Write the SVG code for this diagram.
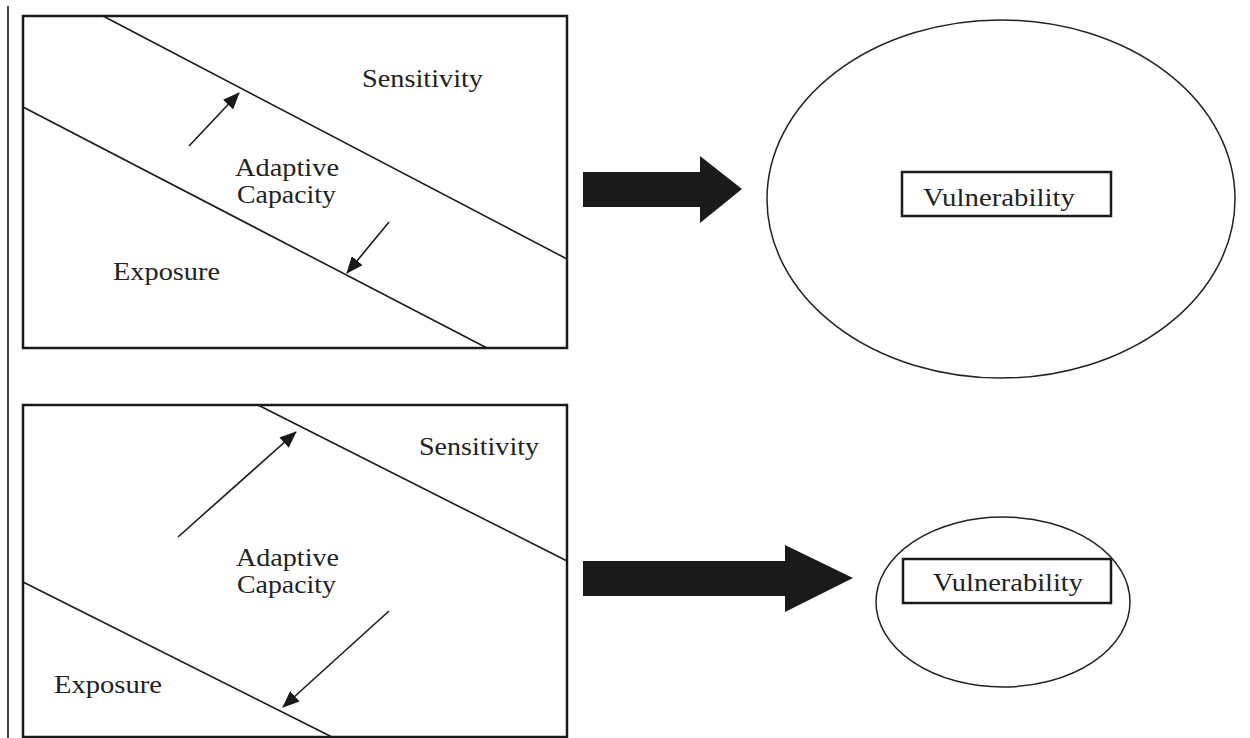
<svg xmlns="http://www.w3.org/2000/svg" width="1250" height="738" viewBox="0 0 1250 738">
<style>
.box{fill:#fff;stroke:#1a1a1a;stroke-width:2.5}
.div{fill:none;stroke:#1a1a1a;stroke-width:1.6}
.arr{fill:none;stroke:#1a1a1a;stroke-width:1.6;marker-end:url(#ah)}
.t{font-family:"Liberation Serif","Times New Roman",serif;fill:#222;font-size:26px}
.ell{fill:#fff;stroke:#222;stroke-width:1.5}
.vbox{fill:#fff;stroke:#1a1a1a;stroke-width:2.5}
.big{fill:#1a1a1a}
</style>
<defs>
<marker id="ah" markerUnits="userSpaceOnUse" markerWidth="18" markerHeight="14" refX="16" refY="7" orient="auto">
<path d="M0,0 L17,7 L0,14 Z" fill="#1a1a1a"/>
</marker>
</defs>
<line x1="8" y1="6" x2="8" y2="738" stroke="#1a1a1a" stroke-width="1.6"/>

<g id="top-panel">
<rect class="box" x="23" y="16" width="544" height="332"/>
<line class="div" x1="103" y1="16" x2="567" y2="259"/>
<line class="div" x1="23" y1="107" x2="487" y2="348"/>
<text class="t" x="362" y="87" textLength="121" lengthAdjust="spacingAndGlyphs">Sensitivity</text>
<text class="t" x="235" y="176" textLength="104" lengthAdjust="spacingAndGlyphs">Adaptive</text>
<text class="t" x="237" y="203" textLength="99" lengthAdjust="spacingAndGlyphs">Capacity</text>
<text class="t" x="113" y="280" textLength="107" lengthAdjust="spacingAndGlyphs">Exposure</text>
</g>

<g id="bottom-panel">
<rect class="box" x="23" y="405" width="544" height="332"/>
<line class="div" x1="258" y1="405" x2="567" y2="561"/>
<line class="div" x1="23" y1="582" x2="332" y2="737"/>
<text class="t" x="419" y="455" textLength="120" lengthAdjust="spacingAndGlyphs">Sensitivity</text>
<text class="t" x="236" y="566" textLength="103" lengthAdjust="spacingAndGlyphs">Adaptive</text>
<text class="t" x="237" y="593" textLength="99" lengthAdjust="spacingAndGlyphs">Capacity</text>
<text class="t" x="54" y="693" textLength="108" lengthAdjust="spacingAndGlyphs">Exposure</text>
</g>

<g id="top-vulnerability">
<ellipse class="ell" cx="1001" cy="199" rx="234" ry="179"/>
<rect class="vbox" x="902" y="172" width="209" height="44"/>
<text class="t" x="923" y="206" textLength="152" lengthAdjust="spacingAndGlyphs">Vulnerability</text>
</g>

<g id="bottom-vulnerability">
<ellipse class="ell" cx="1003" cy="602" rx="127" ry="85"/>
<rect class="vbox" x="903" y="559" width="208" height="44"/>
<text class="t" x="933" y="591" textLength="150" lengthAdjust="spacingAndGlyphs">Vulnerability</text>
</g>

<g id="connectors">
<line class="arr" x1="189" y1="146" x2="239" y2="93"/>
<line class="arr" x1="389" y1="222" x2="347" y2="273"/>
<line class="arr" x1="178" y1="537" x2="296" y2="432"/>
<line class="arr" x1="389" y1="611" x2="283" y2="707"/>
<polygon class="big" points="583,172 700,172 700,156 742,189 700,223 700,207 583,207"/>
<polygon class="big" points="583,561 785,561 785,545 853,578 785,612 785,596 583,596"/>
</g>
</svg>
